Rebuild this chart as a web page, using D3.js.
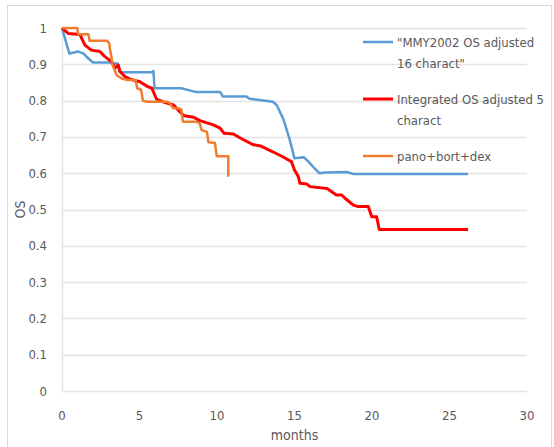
<!DOCTYPE html>
<html>
<head>
<meta charset="utf-8">
<script src="https://cdn.jsdelivr.net/npm/d3@7"></script>
<style>
  html, body { margin: 0; padding: 0; background: #fff; }
  svg { display: block; }
  text { font-family: "DejaVu Sans Condensed", "DejaVu Sans", sans-serif; font-stretch: condensed; fill: #595959; }
</style>
</head>
<body>
<svg id="chart" width="554" height="447"></svg>
<script>
// Overall survival curves: [month, OS]
const mmy2002 = [
  [0, 1.0], [0.47, 0.93], [1.05, 0.935], [1.37, 0.93], [1.7, 0.916], [2.0, 0.905],
  [3.1, 0.905], [3.4, 0.902], [3.6, 0.902], [3.74, 0.878], [5.8, 0.878], [5.9, 0.882],
  [5.97, 0.834], [7.7, 0.834], [8.6, 0.824], [10.2, 0.824], [10.38, 0.811], [11.9, 0.811],
  [12.1, 0.805], [13.6, 0.797], [13.85, 0.788], [14.3, 0.747], [14.7, 0.691], [15.0, 0.641],
  [15.6, 0.644], [15.9, 0.632], [16.3, 0.613], [16.6, 0.6], [16.97, 0.602], [18.4, 0.603],
  [18.8, 0.598], [26.2, 0.598]
];

const integrated = [
  [0, 1.0], [0.4, 0.985], [1.16, 0.982], [1.48, 0.953], [1.9, 0.939], [2.45, 0.935],
  [2.77, 0.921], [3.2, 0.907], [3.42, 0.889], [3.63, 0.898], [3.74, 0.88], [4.06, 0.866],
  [4.4, 0.859], [5.03, 0.852], [5.46, 0.84], [5.8, 0.834], [6.1, 0.804], [6.5, 0.797],
  [7.2, 0.788], [7.6, 0.769], [7.9, 0.758], [8.5, 0.754], [8.9, 0.745], [9.76, 0.733],
  [10.2, 0.724], [10.45, 0.71], [11.05, 0.708], [11.5, 0.697], [12.3, 0.679], [12.8, 0.675],
  [13.6, 0.659], [14.3, 0.644], [14.8, 0.632], [15.0, 0.609], [15.25, 0.59], [15.35, 0.572],
  [15.8, 0.57], [16.0, 0.563], [17.1, 0.558], [17.4, 0.549], [17.7, 0.54], [18.05, 0.54],
  [18.26, 0.531], [18.8, 0.512], [19.1, 0.508], [19.76, 0.508], [19.98, 0.48], [20.3, 0.48],
  [20.47, 0.445], [26.2, 0.445]
];

const panoBortDex = [
  [0, 1.0], [0.98, 1.0], [1.05, 0.983], [1.7, 0.983], [1.78, 0.965], [2.9, 0.965],
  [3.05, 0.958], [3.1, 0.94], [3.2, 0.918], [3.25, 0.9], [3.35, 0.889], [3.53, 0.87],
  [3.85, 0.861], [4.17, 0.857], [4.75, 0.857], [4.85, 0.834], [5.1, 0.83], [5.22, 0.8],
  [5.46, 0.797], [6.8, 0.797], [6.97, 0.792], [7.18, 0.779], [7.5, 0.779], [7.7, 0.776],
  [7.8, 0.742], [8.7, 0.742], [8.9, 0.736], [9.0, 0.719], [9.35, 0.714], [9.45, 0.685],
  [9.87, 0.683], [9.98, 0.647], [10.73, 0.647], [10.73, 0.59]
];

const seriesNames = ['"MMY2002 OS adjusted|16 charact"', 'Integrated OS adjusted 5|charact', 'pano+bort+dex'];
const seriesColors = ["#5b9bd5", "#ff0000", "#ed7d31"];
const seriesWidths = [2.5, 3, 2.5];
const seriesData = [mmy2002, integrated, panoBortDex];

const xTicks = [0, 5, 10, 15, 20, 25, 30];
const yTicks = [0, 0.1, 0.2, 0.3, 0.4, 0.5, 0.6, 0.7, 0.8, 0.9, 1];
const xTitle = "months";
const yTitle = "OS";

const svg = d3.select("#chart");

// chart frame
svg.append("rect")
  .attr("x", 7.5).attr("y", 5.5)
  .attr("width", 544).attr("height", 470)
  .attr("fill", "#fff").attr("stroke", "#d9d9d9").attr("stroke-width", 1);

const x = d3.scaleLinear().domain([0, 30]).range([62, 527]);
const y = d3.scaleLinear().domain([0, 1]).range([391, 28]);

// horizontal gridlines
svg.append("g")
  .selectAll("line")
  .data(yTicks)
  .join("line")
  .attr("x1", x(0)).attr("x2", x(30))
  .attr("y1", d => Math.round(y(d)) + 0.5).attr("y2", d => Math.round(y(d)) + 0.5)
  .attr("stroke", "#e3e3e3").attr("stroke-width", 1.3);

// vertical axis line
svg.append("line")
  .attr("x1", x(0) + 0.5).attr("x2", x(0) + 0.5)
  .attr("y1", y(1)).attr("y2", y(0))
  .attr("stroke", "#e3e3e3").attr("stroke-width", 1.3);

// y tick labels
svg.append("g")
  .selectAll("text")
  .data(yTicks)
  .join("text")
  .attr("x", 47).attr("y", d => y(d))
  .attr("dy", "0.35em")
  .attr("text-anchor", "end")
  .attr("font-size", 13)
  .text(d => d3.format("~g")(d));

// x tick labels
svg.append("g")
  .selectAll("text")
  .data(xTicks)
  .join("text")
  .attr("x", d => x(d)).attr("y", 415)
  .attr("dy", "0.35em")
  .attr("text-anchor", "middle")
  .attr("font-size", 13)
  .text(d => d);

// axis titles
svg.append("text")
  .attr("x", x(15)).attr("y", 435).attr("dy", "0.35em")
  .attr("text-anchor", "middle").attr("font-size", 14)
  .text(xTitle);

svg.append("text")
  .attr("transform", `translate(20,${y(0.5)}) rotate(-90)`)
  .attr("dy", "0.35em")
  .attr("text-anchor", "middle").attr("font-size", 14)
  .text(yTitle);

// survival curves
const line = d3.line().x(d => x(d[0])).y(d => y(d[1]));
svg.append("g")
  .selectAll("path")
  .data(seriesData)
  .join("path")
  .attr("d", line)
  .attr("fill", "none")
  .attr("stroke", (d, i) => seriesColors[i])
  .attr("stroke-width", (d, i) => seriesWidths[i])
  .attr("stroke-linejoin", "round");

// legend
const legendY = [42, 99, 156];
const legend = svg.append("g");
seriesNames.forEach((name, i) => {
  legend.append("line")
    .attr("x1", 363).attr("x2", 393)
    .attr("y1", legendY[i]).attr("y2", legendY[i])
    .attr("stroke", seriesColors[i]).attr("stroke-width", seriesWidths[i]);
  name.split("|").forEach((part, j) => {
    legend.append("text")
      .attr("x", 397).attr("y", legendY[i] + j * 21)
      .attr("dy", "0.35em")
      .attr("font-size", 13)
      .text(part);
  });
});
</script>
</body>
</html>
